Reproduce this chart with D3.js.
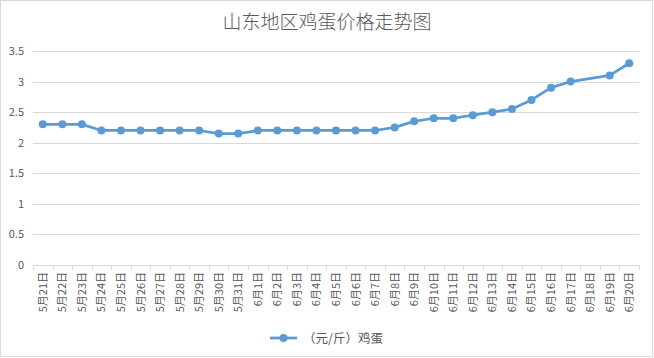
<!DOCTYPE html>
<html lang="zh">
<head>
    <meta charset="utf-8">
    <script src="https://d3js.org/d3.v7.min.js"></script>
    <title>山东地区鸡蛋价格走势图</title>
    <style>
        body { margin: 0; background: #fff; }
        svg text { font-family: "Noto Sans CJK SC", "Noto Sans", sans-serif; fill: #595959; }
    </style>
</head>
<body>
<svg width="654" height="358"></svg>
<script>
    // categories (dates) and prices, 6月18日 has no value
    var dates = ["5月21日","5月22日","5月23日","5月24日","5月25日","5月26日","5月27日","5月28日",
                 "5月29日","5月30日","5月31日","6月1日","6月2日","6月3日","6月4日","6月5日",
                 "6月6日","6月7日","6月8日","6月9日","6月10日","6月11日","6月12日","6月13日",
                 "6月14日","6月15日","6月16日","6月17日","6月18日","6月19日","6月20日"];
    var prices = [2.3, 2.3, 2.3, 2.2, 2.2, 2.2, 2.2, 2.2,
                  2.2, 2.15, 2.15, 2.2, 2.2, 2.2, 2.2, 2.2,
                  2.2, 2.2, 2.25, 2.35, 2.4, 2.4, 2.45, 2.5,
                  2.55, 2.7, 2.9, 3.0, null, 3.1, 3.3];
    var yTicks = [0, 0.5, 1, 1.5, 2, 2.5, 3, 3.5];
    var seriesName = "（元/斤）鸡蛋";
    var title = "山东地区鸡蛋价格走势图";

    var svg = d3.select("svg");
    var plotLeft = 33, plotRight = 639, plotTop = 51, plotBottom = 265;

    // chart border
    svg.append("rect")
        .attr("x", 0.5).attr("y", 0.5)
        .attr("width", 652).attr("height", 356)
        .style("fill", "#fff")
        .style("stroke", "#d9d9d9");

    var x = d3.scaleBand().domain(dates).range([plotLeft, plotRight]);
    var y = d3.scaleLinear().domain([0, 3.5]).range([plotBottom, plotTop]);

    // title
    svg.append("text")
        .attr("x", 327).attr("y", 29)
        .attr("text-anchor", "middle")
        .style("font-size", "19px")
        .style("font-weight", 300)
        .text(title);

    // grid lines
    svg.append("g")
        .selectAll("line")
        .data(yTicks.filter(function (d) { return d > 0; }))
        .enter().append("line")
        .attr("x1", plotLeft).attr("x2", plotRight)
        .attr("y1", function (d) { return Math.round(y(d)) + 0.5; })
        .attr("y2", function (d) { return Math.round(y(d)) + 0.5; })
        .style("stroke", "#d9d9d9");

    // y labels
    svg.append("g")
        .selectAll("text")
        .data(yTicks)
        .enter().append("text")
        .attr("x", 24)
        .attr("y", function (d) { return y(d) + 4; })
        .attr("text-anchor", "end")
        .style("font-size", "11px")
        .text(function (d) { return d; });

    // x axis line
    svg.append("line")
        .attr("x1", plotLeft).attr("x2", plotRight)
        .attr("y1", plotBottom + 0.5).attr("y2", plotBottom + 0.5)
        .style("stroke", "#d9d9d9");

    // tick marks at band edges
    svg.append("g")
        .selectAll("line")
        .data(dates.concat([null]))
        .enter().append("line")
        .attr("x1", function (d, i) { return Math.round(plotLeft + i * x.step()) + 0.5; })
        .attr("x2", function (d, i) { return Math.round(plotLeft + i * x.step()) + 0.5; })
        .attr("y1", plotBottom).attr("y2", plotBottom + 5)
        .style("stroke", "#d9d9d9");

    // rotated category labels
    svg.append("g")
        .selectAll("text")
        .data(dates)
        .enter().append("text")
        .attr("text-anchor", "end")
        .attr("transform", function (d) {
            return "translate(" + (x(d) + x.bandwidth() / 2 + 4) + "," + (plotBottom + 7) + ")rotate(-90)";
        })
        .style("font-size", "11px")
        .text(function (d) { return d; });

    // line (connect over the gap)
    var pts = dates.map(function (d, i) { return [d, prices[i]]; })
                   .filter(function (p) { return p[1] != null; });

    var line = d3.line()
        .x(function (p) { return x(p[0]) + x.bandwidth() / 2; })
        .y(function (p) { return y(p[1]); });

    svg.append("path")
        .datum(pts)
        .attr("d", line)
        .style("fill", "none")
        .style("stroke", "#5b9bd5")
        .style("stroke-width", 2.75)
        .style("stroke-linejoin", "round");

    svg.append("g")
        .selectAll("circle")
        .data(pts)
        .enter().append("circle")
        .attr("cx", function (p) { return x(p[0]) + x.bandwidth() / 2; })
        .attr("cy", function (p) { return y(p[1]); })
        .attr("r", 4)
        .style("fill", "#5b9bd5");

    // legend
    var lg = svg.append("g").attr("transform", "translate(270,338)");
    lg.append("line")
        .attr("x1", 0).attr("x2", 27)
        .style("stroke", "#5b9bd5")
        .style("stroke-width", 2.75);
    lg.append("circle")
        .attr("cx", 13.5).attr("r", 4)
        .style("fill", "#5b9bd5");
    lg.append("text")
        .attr("x", 33).attr("y", 4.5)
        .style("font-size", "12.5px")
        .text(seriesName);
</script>
</body>
</html>
